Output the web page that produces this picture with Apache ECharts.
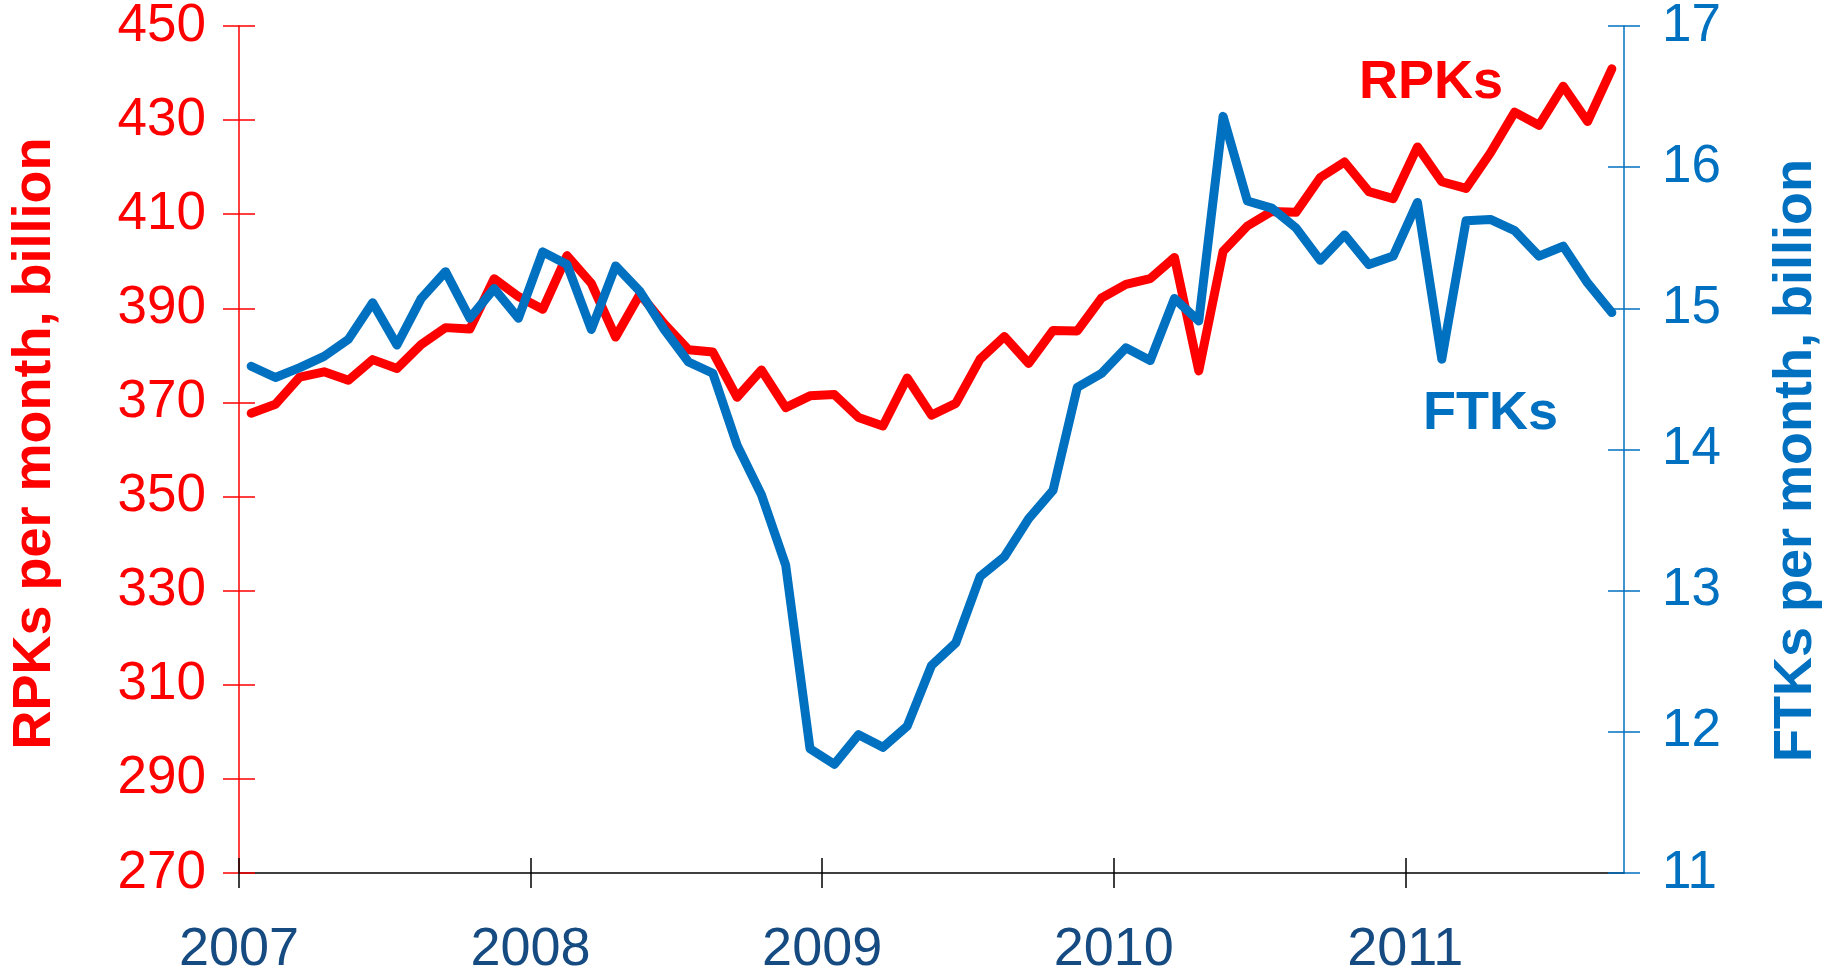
<!DOCTYPE html>
<html>
<head>
<meta charset="utf-8">
<title>RPKs and FTKs per month</title>
<script src="https://cdn.jsdelivr.net/npm/echarts@6/dist/echarts.min.js"></script>
<style>
  html, body { margin: 0; padding: 0; background: #fff; }
  #chart { width: 1837px; height: 970px; }
</style>
</head>
<body>
<div id="chart"></div>
<script>
// monthly data, Jan 2007 - Sep 2011
const yearLabels = ['2007', '2008', '2009', '2010', '2011'];
const months = [
    '2007-01', '2007-02', '2007-03', '2007-04', '2007-05', '2007-06', '2007-07', '2007-08', '2007-09', '2007-10', '2007-11', '2007-12',
    '2008-01', '2008-02', '2008-03', '2008-04', '2008-05', '2008-06', '2008-07', '2008-08', '2008-09', '2008-10', '2008-11', '2008-12',
    '2009-01', '2009-02', '2009-03', '2009-04', '2009-05', '2009-06', '2009-07', '2009-08', '2009-09', '2009-10', '2009-11', '2009-12',
    '2010-01', '2010-02', '2010-03', '2010-04', '2010-05', '2010-06', '2010-07', '2010-08', '2010-09', '2010-10', '2010-11', '2010-12',
    '2011-01', '2011-02', '2011-03', '2011-04', '2011-05', '2011-06', '2011-07', '2011-08', '2011-09'
];
// RPKs per month, billion (left axis)
const rpk = [
    367.7, 369.6, 375.4, 376.5, 374.7, 379.1, 377.2, 382.3, 385.9, 385.6, 396.3, 392.5,
    389.8, 401.2, 395.3, 383.9, 393.0, 386.7, 381.2, 380.7, 371.1, 376.9, 368.9, 371.4,
    371.7, 366.8, 365.0, 375.2, 367.3, 369.8, 379.2, 384.0, 378.3, 385.3, 385.2, 392.2,
    395.1, 396.3, 400.8, 376.7, 402.1, 407.5, 410.6, 410.4, 417.8, 421.1, 414.8, 413.3,
    424.3, 416.9, 415.5, 423.0, 431.7, 428.9, 437.2, 429.7, 440.9
];
// FTKs per month, billion (right axis)
const ftk = [
    14.59, 14.51, 14.58, 14.66, 14.78, 15.04, 14.74, 15.07, 15.26, 14.93, 15.14, 14.93,
    15.40, 15.31, 14.85, 15.30, 15.12, 14.85, 14.62, 14.54, 14.03, 13.68, 13.18, 11.88,
    11.77, 11.98, 11.89, 12.04, 12.47, 12.63, 13.10, 13.24, 13.51, 13.71, 14.44, 14.54,
    14.72, 14.63, 15.07, 14.91, 16.36, 15.76, 15.71, 15.57, 15.34, 15.52, 15.31, 15.37,
    15.75, 14.64, 15.62, 15.63, 15.55, 15.37, 15.44, 15.18, 14.97
];

const RED = '#ff0000';
const BLUE = '#0070c0';
const NAVY = '#164b82';
const FONT = '"Liberation Sans", Arial, sans-serif';

// each month sits in the middle of its band, years start on the ticks
const toPoints = vals => vals.map((v, i) => [i + 0.5, v]);
// tick / label positions: first month of every year
const yearStarts = yearLabels.map((y, i) => i * 12);

const chart = echarts.init(document.getElementById('chart'));

// two grids on the same rect: the second one only draws the inner half of the ticks
const gridRect = { left: 239, right: 213, top: 26, bottom: 97, containLabel: false, outerBoundsMode: 'none' };

const xBase = {
    type: 'value',
    position: 'bottom',
    min: 0,
    max: months.length,
    interval: 12,
    splitLine: { show: false }
};
const leftBase = { type: 'value', position: 'left', min: 270, max: 450, interval: 20, splitLine: { show: false } };
const rightBase = { type: 'value', position: 'right', min: 11, max: 17, interval: 1, splitLine: { show: false } };

const option = {
    animation: false,
    backgroundColor: '#fff',
    textStyle: { fontFamily: FONT },
    grid: [Object.assign({}, gridRect), Object.assign({}, gridRect)],
    xAxis: [
        Object.assign({}, xBase, {
            gridIndex: 0,
            axisLine: { lineStyle: { color: '#000', width: 1.5 } },
            axisTick: { show: true, length: 15, customValues: yearStarts, lineStyle: { color: '#000', width: 1.5 } },
            axisLabel: {
                margin: 50,
                color: NAVY,
                fontSize: 54,
                fontFamily: FONT,
                customValues: yearStarts,
                formatter: v => yearLabels[v / 12] || ''
            }
        }),
        Object.assign({}, xBase, {
            gridIndex: 1,
            axisLine: { show: false },
            axisTick: { show: true, inside: true, length: 15, customValues: yearStarts, lineStyle: { color: '#000', width: 1.5 } },
            axisLabel: { show: false }
        })
    ],
    yAxis: [
        Object.assign({}, leftBase, {
            gridIndex: 0,
            name: 'RPKs per month, billion',
            nameLocation: 'middle',
            nameGap: 177,
            nameTextStyle: { color: RED, fontSize: 54, fontWeight: 'bold', fontFamily: FONT, padding: [0, 0, 0, 12] },
            axisLine: { show: true, lineStyle: { color: RED, width: 1.5 } },
            axisTick: { show: true, length: 16, lineStyle: { color: RED, width: 1.5 } },
            axisLabel: { margin: 33, color: RED, fontSize: 53, fontFamily: FONT }
        }),
        Object.assign({}, rightBase, {
            gridIndex: 0,
            name: 'FTKs per month, billion',
            nameLocation: 'middle',
            nameGap: 145,
            nameTextStyle: { color: BLUE, fontSize: 54, fontWeight: 'bold', fontFamily: FONT, padding: [0, 22, 0, 0] },
            axisLine: { show: true, lineStyle: { color: BLUE, width: 1.5 } },
            axisTick: { show: true, length: 16, lineStyle: { color: BLUE, width: 1.5 } },
            axisLabel: { margin: 38, color: BLUE, fontSize: 53, fontFamily: FONT }
        }),
        Object.assign({}, leftBase, {
            gridIndex: 1,
            axisLine: { show: false },
            axisTick: { show: true, inside: true, length: 16, lineStyle: { color: RED, width: 1.5 } },
            axisLabel: { show: false }
        }),
        Object.assign({}, rightBase, {
            gridIndex: 1,
            axisLine: { show: false },
            axisTick: { show: true, inside: true, length: 16, lineStyle: { color: BLUE, width: 1.5 } },
            axisLabel: { show: false }
        })
    ],
    series: [
        {
            name: 'RPKs',
            type: 'line',
            xAxisIndex: 0,
            yAxisIndex: 0,
            data: toPoints(rpk),
            showSymbol: false,
            lineStyle: { color: RED, width: 9, join: 'round', cap: 'round' },
            z: 3
        },
        {
            name: 'FTKs',
            type: 'line',
            xAxisIndex: 0,
            yAxisIndex: 1,
            data: toPoints(ftk),
            showSymbol: false,
            lineStyle: { color: BLUE, width: 9, join: 'round', cap: 'round' },
            z: 4
        }
    ],
    graphic: [
        {
            type: 'text', left: 1359, top: 56,
            style: { text: 'RPKs', fill: RED, font: 'bold 54px ' + FONT }
        },
        {
            type: 'text', left: 1423, top: 387,
            style: { text: 'FTKs', fill: BLUE, font: 'bold 54px ' + FONT }
        }
    ]
};

chart.setOption(option);
</script>
</body>
</html>
